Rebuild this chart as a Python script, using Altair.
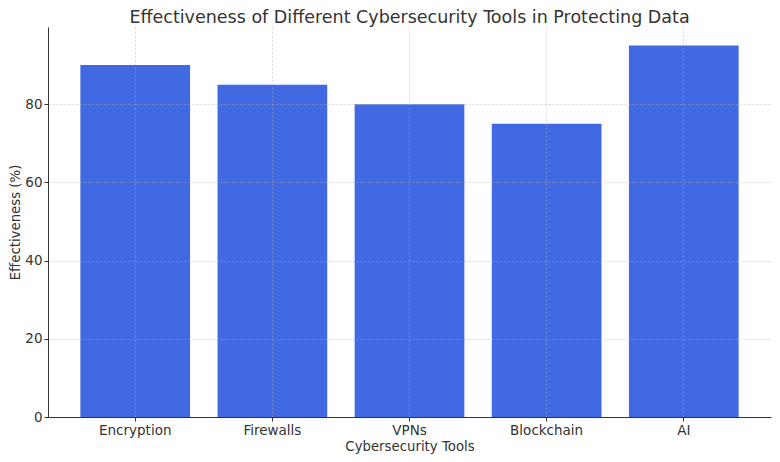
import altair as alt
import pandas as pd

tools = ["Encryption", "Firewalls", "VPNs", "Blockchain", "AI"]
effectiveness = [90, 85, 80, 75, 95]
y_ticks = [0, 20, 40, 60, 80]

df = pd.DataFrame({"Tool": tools, "Effectiveness": effectiveness})

FONT = "DejaVu Sans"
TXT = "#333333"

chart = alt.Chart(df).mark_bar(color="#4169E1").encode(
    x=alt.X(
        "Tool:N",
        sort=tools,
        title="Cybersecurity Tools",
        scale=alt.Scale(paddingInner=0.2, paddingOuter=0.236),
        axis=alt.Axis(
            labelAngle=0, bandPosition=0.5, tickBand="center",
            grid=True, gridDash=[2, 2], gridColor="#b0b0b0", gridOpacity=0.5,
            domainColor="#333333", tickColor="#333333", tickSize=4,
            labelFont=FONT, labelFontSize=13.5, labelColor=TXT, labelPadding=2,
            titleFont=FONT, titleFontSize=13.3, titleColor=TXT, titleFontWeight="normal",
            titlePadding=3, zindex=1,
        ),
    ),
    y=alt.Y(
        "Effectiveness:Q",
        title="Effectiveness (%)",
        scale=alt.Scale(domain=[0, 99.75], nice=False, zero=True),
        axis=alt.Axis(
            values=y_ticks,
            grid=True, gridDash=[2, 2], gridColor="#b0b0b0", gridOpacity=0.5,
            domainColor="#333333", tickColor="#333333", tickSize=4,
            labelFont=FONT, labelFontSize=13.5, labelColor=TXT, labelPadding=2,
            titleFont=FONT, titleFontSize=13.3, titleColor=TXT, titleFontWeight="normal",
            titlePadding=2, zindex=1,
        ),
    ),
).properties(
    width=764,
    height=446,
    title=alt.TitleParams(
        "Effectiveness of Different Cybersecurity Tools in Protecting Data",
        font=FONT, fontSize=17.5, fontWeight="normal", color=TXT, offset=1,
    ),
    padding={"left": 0, "top": 0, "right": 1, "bottom": 1},
    autosize=alt.AutoSizeParams(type="fit", contains="padding"),
).configure_view(stroke=None)

chart.save("out.html", embed_options={"renderer": "svg", "actions": False})
